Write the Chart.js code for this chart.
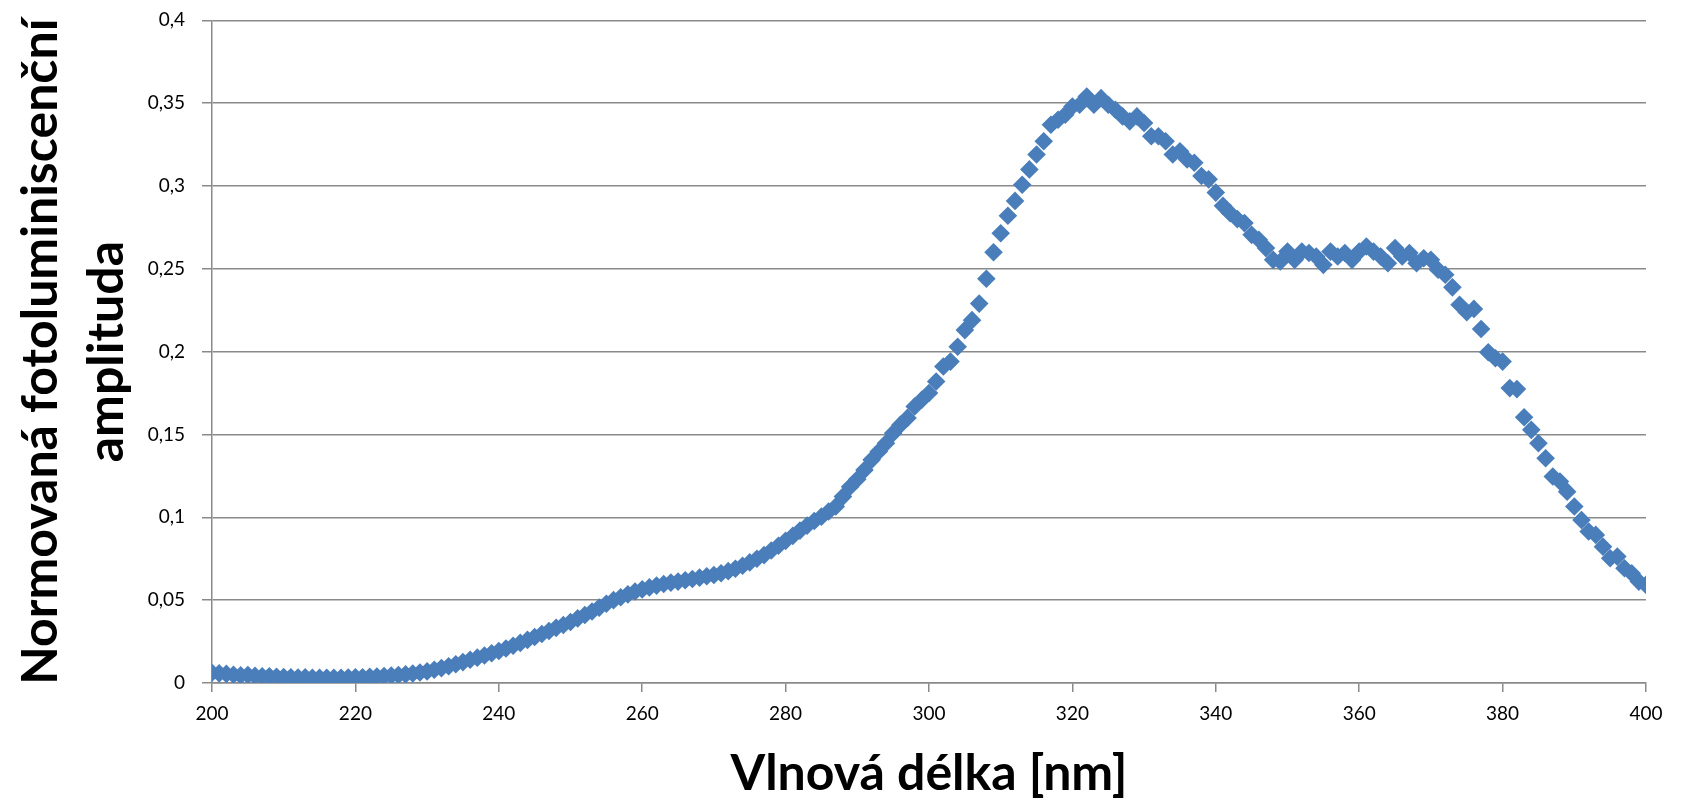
<!DOCTYPE html>
<html lang="cs">
<head>
<meta charset="UTF-8">
<title>Normovaná fotoluminiscenční amplituda</title>
<script src="https://cdn.jsdelivr.net/npm/chart.js@4.4.1/dist/chart.umd.min.js"></script>
<style>
    html, body { margin: 0; padding: 0; background: #ffffff; }
    #spectrumChart { display: block; }
</style>
</head>
<body>
<canvas id="spectrumChart" width="1684" height="802"></canvas>
<script>
// Vlnové délky [nm], krok 1 nm
const wavelengthStart = 200;
const wavelengthEnd = 400;

// Normovaná amplituda (200 ... 400 nm)
const amplitude = [
    0.0062, 0.0058, 0.0055, 0.0050, 0.0046, 0.0048, 0.0043, 0.0040, 0.0041, 0.0038,
    0.0036, 0.0035, 0.0033, 0.0034, 0.0032, 0.0032, 0.0031, 0.0032, 0.0031, 0.0033,
    0.0034, 0.0035, 0.0037, 0.0039, 0.0042, 0.0045, 0.0048, 0.0052, 0.0057, 0.0063,
    0.0070, 0.0080, 0.0090, 0.0101, 0.0113, 0.0126, 0.0140, 0.0153, 0.0166, 0.0180,
    0.0193, 0.0208, 0.0225, 0.0242, 0.0260, 0.0278, 0.0296, 0.0314, 0.0333, 0.0350,
    0.0368, 0.0390, 0.0410, 0.0432, 0.0455, 0.0478, 0.0500, 0.0518, 0.0535, 0.0552,
    0.0565, 0.0577, 0.0588, 0.0598, 0.0606, 0.0612, 0.0620, 0.0628, 0.0636, 0.0644,
    0.0652, 0.0662, 0.0675, 0.0690, 0.0708, 0.0728, 0.0750, 0.0772, 0.0800, 0.0828,
    0.0858, 0.0888, 0.0920, 0.0950, 0.0978, 0.1004, 0.1035, 0.1065, 0.1125, 0.1185,
    0.1230, 0.1286, 0.1347, 0.1397, 0.1447, 0.1508, 0.1558, 0.1600, 0.1669, 0.1710,
    0.1750, 0.1820, 0.1910, 0.1940, 0.2030, 0.2130, 0.2190, 0.2290, 0.2440, 0.2600,
    0.2715, 0.2820, 0.2910, 0.3007, 0.3100, 0.3190, 0.3270, 0.3370, 0.3400, 0.3430,
    0.3480, 0.3490, 0.3540, 0.3490, 0.3530, 0.3490, 0.3460, 0.3420, 0.3390, 0.3420,
    0.3380, 0.3300, 0.3300, 0.3270, 0.3190, 0.3210, 0.3160, 0.3140, 0.3060, 0.3040,
    0.2960, 0.2880, 0.2836, 0.2800, 0.2776, 0.2705, 0.2675, 0.2625, 0.2554, 0.2544,
    0.2604, 0.2554, 0.2604, 0.2595, 0.2574, 0.2524, 0.2604, 0.2574, 0.2595, 0.2554,
    0.2604, 0.2635, 0.2604, 0.2574, 0.2534, 0.2625, 0.2574, 0.2595, 0.2534, 0.2564,
    0.2554, 0.2494, 0.2464, 0.2388, 0.2283, 0.2238, 0.2258, 0.2137, 0.1996, 0.1960,
    0.1940, 0.1780, 0.1774, 0.1604, 0.1528, 0.1447, 0.1357, 0.1246, 0.1216, 0.1155,
    0.1065, 0.0984, 0.0914, 0.0894, 0.0823, 0.0753, 0.0763, 0.0693, 0.0662, 0.0612,
    0.0592
];

// Popisky os
const xTitle = 'Vlnová délka [nm]';
const yTitle = ['Normovaná fotoluminiscenční', 'amplituda'];

// Osy
const xMin = 200, xMax = 400, xStep = 20;
const yMin = 0, yMax = 0.4, yStep = 0.05;

const gridColor = '#8a8a8a';
const markerColor = '#4A7EBB';

/**
 * Vykreslení grafu
 */
function createSpectrumChart() {
    const ctx = document.getElementById('spectrumChart');

    // body (x, y) pro scatter
    const points = amplitude.map((v, i) => ({ x: wavelengthStart + i, y: v }));

    new Chart(ctx, {
        type: 'scatter',
        data: {
            datasets: [{
                data: points,
                pointStyle: 'rectRot',
                pointRadius: 9.3,
                pointHoverRadius: 9.3,
                backgroundColor: markerColor,
                borderColor: markerColor,
                borderWidth: 0
            }]
        },
        options: {
            responsive: false,
            animation: false,
            layout: {
                padding: { top: 20.3, right: 38, bottom: 0, left: 0 }
            },
            plugins: {
                legend: { display: false },
                tooltip: { enabled: false }
            },
            scales: {
                x: {
                    type: 'linear',
                    min: xMin,
                    max: xMax,
                    afterFit: (scale) => { scale.height = 119; },
                    ticks: {
                        stepSize: xStep,
                        padding: 10,
                        color: '#000000',
                        font: { family: 'Lato', size: 19 }
                    },
                    grid: {
                        drawOnChartArea: false,
                        drawTicks: true,
                        tickLength: 9,
                        color: gridColor,
                        lineWidth: 1.5
                    },
                    border: { display: true, color: gridColor, width: 1.5 },
                    title: {
                        display: true,
                        text: xTitle,
                        color: '#000000',
                        font: { family: 'Lato', size: 50, weight: 'bold', lineHeight: 1.1 },
                        padding: { top: 0, bottom: 1 }
                    }
                },
                y: {
                    min: yMin,
                    max: yMax,
                    afterFit: (scale) => {
                        // pevná šířka osy, plocha grafu začíná na x = 212
                        scale.width = 212;
                        scale.paddingTop = 0;
                        scale.paddingBottom = 0;
                    },
                    ticks: {
                        stepSize: yStep,
                        padding: 17,
                        color: '#000000',
                        font: { family: 'Lato', size: 19 },
                        callback: (value) => String(+value.toFixed(2)).replace('.', ',')
                    },
                    grid: {
                        drawTicks: true,
                        tickLength: 10,
                        color: gridColor,
                        lineWidth: 1.5
                    },
                    border: { display: true, color: gridColor, width: 1.5 },
                    title: {
                        display: true,
                        text: yTitle,
                        color: '#000000',
                        font: { family: 'Lato', size: 50, weight: 'bold', lineHeight: 1.32 },
                        padding: { top: 8, bottom: 0 }
                    }
                }
            }
        }
    });
}

createSpectrumChart();
</script>
</body>
</html>
